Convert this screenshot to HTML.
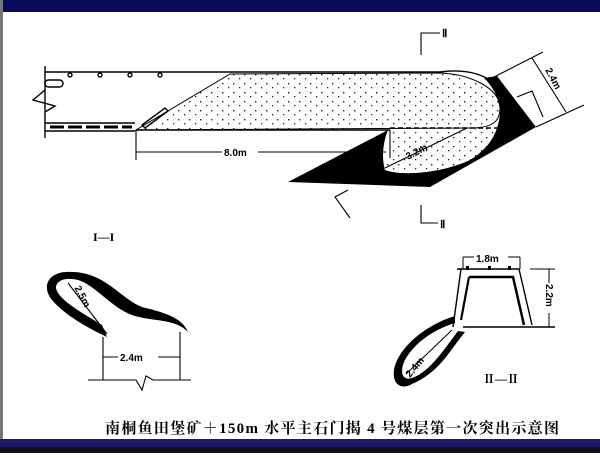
<!DOCTYPE html>
<html><head><meta charset="utf-8"><style>
html,body{margin:0;padding:0;background:#fff}
body{width:600px;height:453px;overflow:hidden;position:relative;font-family:"Liberation Serif","Noto Serif CJK SC",serif}
</style></head><body>
<svg width="600" height="453" viewBox="0 0 600 453" xmlns="http://www.w3.org/2000/svg">
<defs>
<pattern id="dots" width="11" height="9" patternUnits="userSpaceOnUse">
<rect x="2" y="2" width="1.4" height="1.4" fill="#222"/><rect x="8" y="6" width="1.3" height="1.3" fill="#222"/>
</pattern>
</defs>
<rect x="0" y="0" width="600" height="12" fill="#0a0a5a"/>
<rect x="0" y="0" width="3" height="453" fill="#777"/>
<rect x="0" y="439" width="600" height="8" fill="#1a1a6a"/>
<rect x="0" y="447" width="600" height="6" fill="#111"/>
<!-- dotted fill -->
<path d="M230 74 L440 73 C470 74 500 88 500 108 C500 122 492 128 470 128 L136 130 Z" fill="url(#dots)" stroke="#000" stroke-width="1"/>
<path d="M390 131 L498 128 C490 150 470 170 420 172 C400 172 388 170 385 168 C392 155 392 140 390 131 Z" fill="url(#dots)"/>
<g stroke="#000" fill="none" stroke-width="1.4">
<path d="M45 66 V138"/>
<path d="M45 72 H440 C470 68 490 76 500 90"/>
<path d="M45 90 L33 100 L55 106 L45 112"/>
<rect x="45" y="80" width="18" height="7" rx="3.5"/>
<circle cx="70" cy="75" r="2"/><circle cx="100" cy="75" r="2"/><circle cx="130" cy="75" r="2"/><circle cx="160" cy="75" r="2"/>
<path d="M45 123 H135 M45 131 H135" stroke-width="1.5"/>
<path d="M50 127 H132" stroke-width="3" stroke-dasharray="14 4"/>
<path d="M142 125 L165 108 L168 111 L145 128 Z"/>
<path d="M136 130 H390"/>
<path d="M390 128 H500" stroke-dasharray="5 3"/>
</g>
<!-- black coal -->
<path d="M388 130 C382 145 382 160 385 170 C400 176 440 174 470 160 C490 148 500 130 500 110 C498 95 492 86 484 78 L497 76 L536 127 L430 187 L288 182 Z" fill="#000"/>
<g stroke="#000" fill="none" stroke-width="1.1">
<path d="M136 130 V160 M136 152 H386 M390 130 V158"/>
<path d="M385 168 L467 128"/>
<path d="M494 77 L543 52 M536 127 L584 105"/>
<path d="M532 58 L566 112"/>
<path d="M517 97 L532 91 L543 117"/>
<path d="M421 55 V33 H440"/>
<path d="M421 205 V223 H438"/>
<path d="M348 190 L335 197 L350 218"/>
</g>
<g font-family="Liberation Sans,sans-serif" font-size="10" font-weight="bold" fill="#000">
<rect x="222" y="146" width="36" height="12" fill="#fff"/>
<text x="224" y="156">8.0m</text>
<text x="408" y="160" transform="rotate(-28 408 160)">3.2m</text>
<text x="545" y="70" transform="rotate(62 545 70)">2.4m</text>
<text x="442" y="37" font-family="Liberation Serif" font-size="11">Ⅱ</text>
<text x="440" y="228" font-family="Liberation Serif" font-size="11">Ⅱ</text>
</g>
<text x="93" y="241" font-size="12" font-weight="bold">I—I</text>
<!-- section I -->
<path d="M72 272 C50 270 40 285 52 300 C66 316 88 328 107 337 L102 325 C84 314 58 300 56 288 C56 280 66 277 78 280 C95 285 112 308 132 315 C152 322 175 318 188 332 C182 317 162 312 142 307 C122 300 105 272 72 272 Z" fill="#000"/>
<g stroke="#000" fill="none" stroke-width="1.1">
<path d="M68 283 L107 334"/>
<path d="M103 337 V380 M180 332 V380 M103 357 H180"/>
<path d="M88 380 H136 L142 390 L146 376 L153 380 H191"/>
</g>
<text x="70" y="295" font-family="Liberation Sans" font-size="10" font-weight="bold" transform="rotate(62 78 295)">2.5m</text>
<rect x="118" y="351" width="40" height="12" fill="#fff"/>
<text x="120" y="361" font-family="Liberation Sans" font-size="10" font-weight="bold">2.4m</text>
<!-- section II -->
<g stroke="#000" fill="none" stroke-width="1.4">
<path d="M457 269 H520 M461 269 L453 327 M519 269 L532 325 M463 327 H555"/>
<path d="M469 277 H513 L524 325" stroke-width="2.5"/>
<path d="M469 277 L461 320" stroke-width="2.2"/>
<path d="M463 257 V269 M520 257 V269 M463 257 H520" stroke-width="1"/>
<path d="M530 269 H555 M549 269 V327" stroke-width="1"/>
</g>
<rect x="466" y="266" width="3" height="4" fill="#000"/><rect x="488" y="266" width="3" height="4" fill="#000"/><rect x="508" y="266" width="3" height="4" fill="#000"/>
<path d="M455 316 C425 325 398 348 394 370 C392 385 402 390 412 384 C440 372 450 350 465 332 L458 331 C445 348 430 372 412 378 C402 381 400 372 404 362 C412 345 432 330 455 323 Z" fill="#000"/>
<path d="M406 374 L452 330" stroke="#000" stroke-width="1"/>
<rect x="474" y="252" width="34" height="12" fill="#fff"/>
<text x="476" y="262" font-family="Liberation Sans" font-size="10" font-weight="bold">1.8m</text>
<rect x="545" y="283" width="9" height="30" fill="#fff"/>
<text x="546" y="284" font-family="Liberation Sans" font-size="10" font-weight="bold" transform="rotate(90 546 284)">2.2m</text>
<text x="410" y="378" font-family="Liberation Sans" font-size="10" font-weight="bold" transform="rotate(-50 410 378)">2.4m</text>
<text x="483" y="383" font-size="12" font-weight="bold">Ⅱ—Ⅱ</text>
<text x="105" y="433" font-size="15" font-weight="bold" textLength="454" lengthAdjust="spacing" font-family="Liberation Serif,Noto Serif CJK SC,serif">南桐鱼田堡矿＋150m 水平主石门揭 4 号煤层第一次突出示意图</text>
</svg>
</body></html>
